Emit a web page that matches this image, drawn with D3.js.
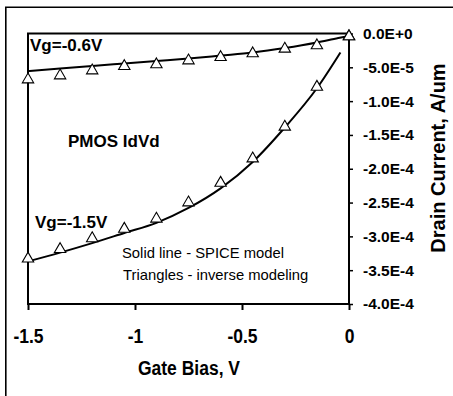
<!DOCTYPE html>
<html>
<head>
<meta charset="utf-8">
<script src="https://cdn.jsdelivr.net/npm/d3@7"></script>
<style>
  body { margin: 0; background: #fff; }
  svg { display: block; font-family: "Liberation Sans", Arial, sans-serif; }
</style>
</head>
<body>
<div id="chart"></div>
<script>
// Data (current in A/um)
const modelV_06 = [-1.5, -1.35, -1.2, -1.05, -0.9, -0.75, -0.6, -0.45, -0.3, -0.15, -0.05, 0];
const modelI_06 = [-5.56e-5, -5.19e-5, -4.81e-5, -4.44e-5, -4.07e-5, -3.70e-5, -3.26e-5, -2.81e-5, -2.15e-5, -1.33e-5, -0.67e-5, -0.37e-5];

const modelV_15 = [-1.5, -1.35, -1.2, -1.05, -0.9, -0.75, -0.6, -0.45, -0.3, -0.15, -0.04];
const modelI_15 = [-3.37e-4, -3.24e-4, -3.10e-4, -2.95e-4, -2.80e-4, -2.58e-4, -2.29e-4, -1.90e-4, -1.39e-4, -0.81e-4, -0.28e-4];

const invV = [-1.5, -1.35, -1.2, -1.05, -0.9, -0.75, -0.6, -0.45, -0.3, -0.15, 0];
const invI_06 = [-6.81e-5, -6.22e-5, -5.48e-5, -4.84e-5, -4.59e-5, -4.0e-5, -3.51e-5, -2.96e-5, -2.27e-5, -1.78e-5, -0.44e-5];
const invI_15 = [-3.33e-4, -3.19e-4, -3.03e-4, -2.89e-4, -2.74e-4, -2.50e-4, -2.21e-4, -1.85e-4, -1.38e-4, -0.79e-4, -0.44e-5];

const xTicks = [-1.5, -1, -0.5, 0];
const xTickLabels = ["-1.5", "-1", "-0.5", "0"];
const yTicks = [0, -5e-5, -1e-4, -1.5e-4, -2e-4, -2.5e-4, -3e-4, -3.5e-4, -4e-4];
const yTickLabels = ["0.0E+0", "-5.0E-5", "-1.0E-4", "-1.5E-4", "-2.0E-4", "-2.5E-4", "-3.0E-4", "-3.5E-4", "-4.0E-4"];

const W = 453, H = 396;
const plot = {left: 28, right: 349, top: 33.5, bottom: 304};

const svg = d3.select("#chart").append("svg")
    .attr("width", W)
    .attr("height", H);

// outer frame (top and left edges visible)
svg.append("path")
    .attr("d", `M5.8,${H} L5.8,7.3 L${W},7.3`)
    .attr("fill", "none")
    .attr("stroke", "#000")
    .attr("stroke-width", 1.6);

const x = d3.scaleLinear().domain([-1.5, 0]).range([plot.left, plot.right]);
const y = d3.scaleLinear().domain([-4e-4, 0]).range([plot.bottom, plot.top]);

// plot box
svg.append("rect")
    .attr("x", plot.left)
    .attr("y", plot.top)
    .attr("width", plot.right - plot.left)
    .attr("height", plot.bottom - plot.top)
    .attr("fill", "none")
    .attr("stroke", "#000")
    .attr("stroke-width", 2);

// x axis
const xAxis = d3.axisBottom(x)
    .tickValues(xTicks)
    .tickFormat((d, i) => xTickLabels[i])
    .tickSize(6)
    .tickSizeOuter(0);

const gx = svg.append("g")
    .attr("transform", `translate(0,${plot.bottom})`)
    .call(xAxis);
gx.select(".domain").remove();
gx.selectAll(".tick line").attr("stroke", "#000").attr("stroke-width", 2);
gx.selectAll(".tick text")
    .attr("y", 0).attr("dy", 0)
    .attr("transform", "translate(0,39) scale(1,1.2)")
    .attr("font-size", 17.5)
    .attr("font-weight", "bold")
    .attr("fill", "#000")
    .attr("font-family", "'Liberation Sans', Arial, sans-serif");

// y axis (right side)
const yAxis = d3.axisRight(y)
    .tickValues(yTicks)
    .tickFormat((d, i) => yTickLabels[i])
    .tickSize(4)
    .tickPadding(10)
    .tickSizeOuter(0);

const gy = svg.append("g")
    .attr("transform", `translate(${plot.right},0)`)
    .call(yAxis);
gy.select(".domain").remove();
gy.selectAll(".tick line").attr("stroke", "#000").attr("stroke-width", 1.5);
gy.selectAll(".tick text")
    .attr("font-size", 15.5)
    .attr("font-weight", "bold")
    .attr("fill", "#000")
    .attr("font-family", "'Liberation Sans', Arial, sans-serif");

// model lines
const line = d3.line()
    .x(d => x(d[0]))
    .y(d => y(d[1]))
    .curve(d3.curveMonotoneX);

[[modelV_06, modelI_06], [modelV_15, modelI_15]].forEach(([vs, is]) => {
    svg.append("path")
        .datum(vs.map((v, i) => [v, is[i]]))
        .attr("fill", "none")
        .attr("stroke", "#000")
        .attr("stroke-width", 2)
        .attr("d", line);
});

// inverse modeling triangles
const tri = d3.symbol().type(d3.symbolTriangle).size(56);
[invI_06, invI_15].forEach(is => {
    svg.append("g").selectAll("path")
        .data(invV.map((v, i) => [v, is[i]]))
        .join("path")
        .attr("d", tri)
        .attr("transform", d => `translate(${x(d[0])},${y(d[1])})`)
        .attr("fill", "#fff")
        .attr("stroke", "#000")
        .attr("stroke-width", 1.1);
});

// annotations
const notes = [
    {t: "Vg=-0.6V", x: 30, y: 51, size: 17, bold: true},
    {t: "PMOS IdVd", x: 68, y: 147, size: 17, bold: true},
    {t: "Vg=-1.5V", x: 35, y: 228, size: 17, bold: true},
    {t: "Solid line - SPICE model", x: 122, y: 258, size: 14.8, bold: false},
    {t: "Triangles - inverse modeling", x: 123, y: 280, size: 14.8, bold: false}
];
svg.selectAll(".note")
    .data(notes)
    .join("text")
    .attr("class", "note")
    .attr("x", d => d.x)
    .attr("y", d => d.y)
    .attr("font-size", d => d.size)
    .attr("font-weight", d => d.bold ? "bold" : "normal")
    .text(d => d.t);

// axis titles
svg.append("text")
    .attr("transform", "translate(189,375) scale(1,1.2)")
    .attr("text-anchor", "middle")
    .attr("font-size", 17.5)
    .attr("font-weight", "bold")
    .text("Gate Bias, V");

svg.append("text")
    .attr("transform", "translate(445,158) rotate(-90)")
    .attr("text-anchor", "middle")
    .attr("font-size", 20)
    .attr("font-weight", "bold")
    .text("Drain Current, A/um");
</script>
</body>
</html>
